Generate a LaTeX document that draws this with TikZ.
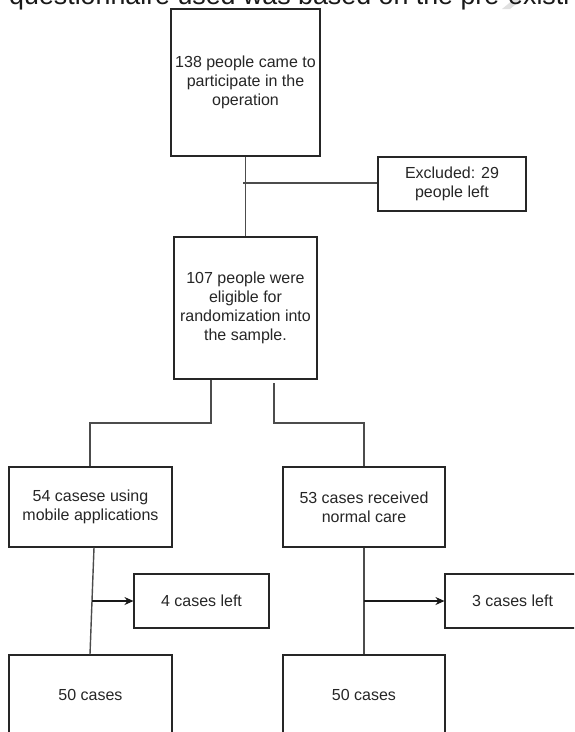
\documentclass[tikz,border=0pt]{standalone}
\usepackage{fontspec}
\setmainfont{Liberation Sans}
\usetikzlibrary{arrows.meta}
\begin{document}
\begin{tikzpicture}[x=1pt,y=-1pt,
  box/.style={draw=black!85,line width=1.1pt,fill=white,align=center,inner sep=0pt,
    font=\fontsize{16}{19}\selectfont,text=black!85},
  conn/.style={draw=black!70,line width=1.4pt},
  arr/.style={draw=black!90,line width=1.1pt,-{Stealth[length=9pt,width=8pt]}}]
\useasboundingbox (0,0) rectangle (574,732);
\clip (0,0) rectangle (574,732);
\fill[white] (0,0) rectangle (574,732);
% header (cut off at top)
\fill[black!12] (502,9) -- (513,0) -- (521,0) -- (510,9) -- cycle;
\node[anchor=base west,inner sep=0pt,font=\fontsize{26.8}{30}\selectfont,text=black!90] (hdr) at (9,4) {questionnaire used was based on the pre-existi};
% boxes
\node[box,minimum width=149pt,minimum height=147pt] (b1) at (245.5,82.5) {138 people came to\\participate in the\\operation};
\node[box,minimum width=148pt,minimum height=54pt] (ex) at (452,184) {Excluded: 29\\people left};
\node[box,minimum width=143pt,minimum height=142pt] (b2) at (245.5,308) {107 people were\\eligible for\\randomization into\\the sample.};
\node[box,minimum width=163pt,minimum height=80pt] (b3) at (90.5,507) {54 casese using\\mobile applications};
\node[box,minimum width=162pt,minimum height=80pt] (b4) at (364,507) {53 cases received\\normal care};
\node[box,minimum width=135pt,minimum height=54pt] (l4) at (201.5,601) {4 cases left};
\node[box,minimum width=135pt,minimum height=54pt] (l3) at (512.5,601) {3 cases left};
\node[box,minimum width=163pt,minimum height=80pt] (b5) at (90.5,695) {50 cases};
\node[box,minimum width=162pt,minimum height=80pt] (b6) at (364,695) {50 cases};
% connectors
\coordinate (j1) at (243,183);
\coordinate (s2) at (274,383);
\coordinate (a4) at (92,601);
\coordinate (a3) at (364,601);
\draw[conn] (b1.south) -- (b2.north);
\draw[conn] (j1) -- (ex.west |- j1);
\draw[conn] (b2.south -| 211,0) -- (211,423) -| (b3.north -| 90,0);
\draw[conn] (s2) -- (274,423) -| (b4.north);
\draw[conn] (b3.south -| 94,0) -- (b5.north -| 90,0);
\draw[arr] (a4) -- (l4.west);
\draw[conn] (b4.south) -- (b6.north);
\draw[arr] (a3) -- (l3.west);
\end{tikzpicture}
\end{document}
